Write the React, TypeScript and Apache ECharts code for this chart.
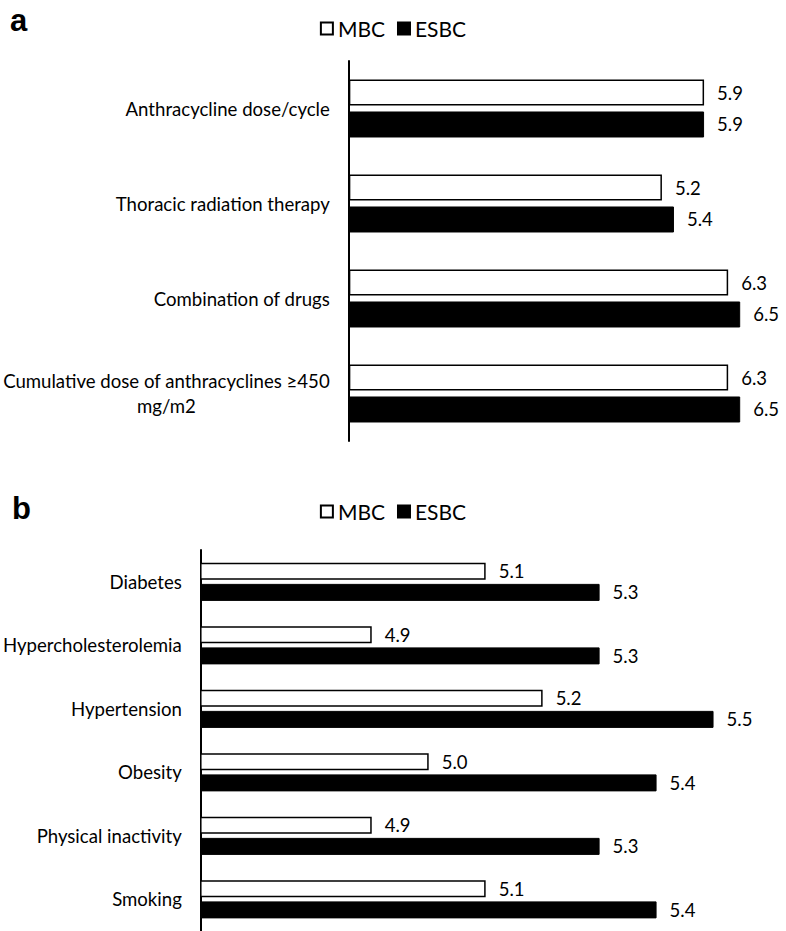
import React, { useEffect, useRef } from "react";
import * as echarts from "echarts";

const seriesNames = ["MBC", "ESBC"];
const panelLetters = ["a", "b"];

const categoriesA = [
  "Anthracycline dose/cycle",
  "Thoracic radiation therapy",
  "Combination of drugs",
  "Cumulative dose of anthracyclines ≥450\nmg/m2",
];
const mbcA = [5.9, 5.2, 6.3, 6.3];
const esbcA = [5.9, 5.4, 6.5, 6.5];
const xRangeA = [0, 7];

const categoriesB = [
  "Diabetes",
  "Hypercholesterolemia",
  "Hypertension",
  "Obesity",
  "Physical inactivity",
  "Smoking",
];
const mbcB = [5.1, 4.9, 5.2, 5.0, 4.9, 5.1];
const esbcB = [5.3, 5.3, 5.5, 5.4, 5.3, 5.4];
const xRangeB = [4.6, 5.6];

const FONT = "Lato";
const AXIS_FS = 18.6;
const VALUE_FS = 18.5;
const LEGEND_FS = 21;

export default function App() {
  const ref = useRef<HTMLDivElement>(null);

  useEffect(() => {
    document.body.style.margin = "0";
    if (!ref.current) return;
    const chart = echarts.init(ref.current, null, { renderer: "svg" });

    const labelStyle = {
      show: true,
      position: "right" as const,
      distance: 13,
      color: "#000",
      fontSize: VALUE_FS,
      fontFamily: FONT,
      formatter: (p: any) => Number(p.value).toFixed(1),
    };

    const mbcStyle = { color: "#fff", borderColor: "#000", borderWidth: 1.5 };
    const esbcStyle = { color: "#000", borderColor: "#000", borderWidth: 1 };

    const yAxisCommon = {
      type: "category" as const,
      inverse: true,
      axisLine: { show: true, lineStyle: { color: "#000", width: 2 } },
      axisTick: { show: false },
      splitLine: { show: false },
    };

    const legendCommon = {
      data: seriesNames,
      left: "center",
      icon: "rect",
      itemWidth: 12,
      itemHeight: 12,
      itemGap: 12,
      textStyle: { fontSize: LEGEND_FS, fontFamily: FONT, color: "#000" },
      selectedMode: false,
    };

    const option: any = {
      animation: false,
      backgroundColor: "#fff",
      graphic: [
        {
          type: "text",
          left: 10,
          top: 5,
          style: { text: panelLetters[0], font: 'bold 31px "Liberation Sans"', fill: "#000" },
        },
        {
          type: "text",
          left: 12,
          top: 493,
          style: { text: panelLetters[1], font: 'bold 31px "Liberation Sans"', fill: "#000" },
        },
      ],
      legend: [
        { ...legendCommon, top: 13 },
        { ...legendCommon, top: 496 },
      ],
      grid: [
        { left: 345.7, right: 15.7, top: 61, height: 380, containLabel: false },
        { left: 200.5, right: 15.5, top: 550, height: 381, containLabel: false },
      ],
      xAxis: [
        { type: "value", gridIndex: 0, min: xRangeA[0], max: xRangeA[1], show: false },
        { type: "value", gridIndex: 1, min: xRangeB[0], max: xRangeB[1], show: false },
      ],
      yAxis: [
        {
          ...yAxisCommon,
          gridIndex: 0,
          data: categoriesA,
          axisLabel: {
            margin: 19,
            color: "#000",
            fontSize: AXIS_FS,
            fontFamily: FONT,
            align: "right",
            lineHeight: 25,
            formatter: (v: string) =>
              v.includes("\n")
                ? v
                    .split("\n")
                    .map((l) => `{c|${l}}`)
                    .join("\n")
                : v,
            rich: {
              c: { align: "center", fontSize: AXIS_FS, fontFamily: FONT, color: "#000", lineHeight: 25 },
            },
          },
        },
        {
          ...yAxisCommon,
          gridIndex: 1,
          data: categoriesB,
          axisLabel: {
            margin: 19,
            color: "#000",
            fontSize: AXIS_FS,
            fontFamily: FONT,
            align: "right",
          },
        },
      ],
      series: [
        {
          name: seriesNames[0],
          type: "bar",
          xAxisIndex: 0,
          yAxisIndex: 0,
          data: mbcA,
          barWidth: 26,
          barGap: "23%",
          itemStyle: mbcStyle,
          label: labelStyle,
        },
        {
          name: seriesNames[1],
          type: "bar",
          xAxisIndex: 0,
          yAxisIndex: 0,
          data: esbcA,
          barWidth: 26,
          barGap: "23%",
          itemStyle: esbcStyle,
          label: labelStyle,
        },
        {
          name: seriesNames[0],
          type: "bar",
          xAxisIndex: 1,
          yAxisIndex: 1,
          data: mbcB,
          barWidth: 17,
          barGap: "25%",
          itemStyle: mbcStyle,
          label: labelStyle,
        },
        {
          name: seriesNames[1],
          type: "bar",
          xAxisIndex: 1,
          yAxisIndex: 1,
          data: esbcB,
          barWidth: 17,
          barGap: "25%",
          itemStyle: esbcStyle,
          label: labelStyle,
        },
      ],
    };

    chart.setOption(option);
    return () => chart.dispose();
  }, []);

  return (
    <div
      ref={ref}
      style={{ position: "absolute", left: 0, top: 0, width: 786, height: 931 }}
    />
  );
}
